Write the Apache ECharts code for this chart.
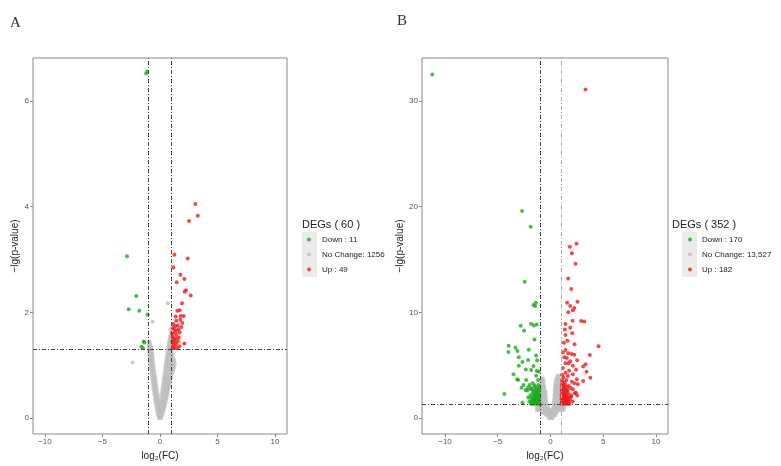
<!DOCTYPE html>
<html><head><meta charset="utf-8">
<script src="https://cdn.jsdelivr.net/npm/echarts@6/dist/echarts.min.js"></script>
<style>html,body{margin:0;padding:0;background:#fff}#c{width:781px;height:466px}</style>
</head><body><div id="c"></div>
<script>
// ---------- Panel A data ----------
const xTicks = [-10, -5, 0, 5, 10];
const yTicksA = [0, 2, 4, 6];
const yTicksB = [0, 10, 20, 30];
const legendTitleA = 'DEGs ( 60 )';
const legendTitleB = 'DEGs ( 352 )';
const namesA = ['Down : 11', 'No Change: 1256', 'Up : 49'];
const namesB = ['Down : 170', 'No Change: 13,527', 'Up : 182'];

const downA = [[-1.2,6.52],[-1.12,6.56],[-2.87,3.06],[-2.06,2.31],[-2.72,2.06],[-1.80,2.03],[-1.07,1.96],
  [-1.42,1.45],[-1.36,1.43],[-1.62,1.35],[-1.48,1.32]];
const upA = [[3.07,4.05],[3.28,3.83],[2.52,3.73],[1.25,3.09],[2.41,3.02],[1.16,2.85],[1.77,2.71],[2.12,2.63],
  [1.45,2.57],[2.26,2.42],[2.14,2.39],[2.67,2.32],[1.91,2.17],[1.71,2.04],[1.51,2.03],[1.36,1.92],[2.06,1.93],
  [1.77,1.86],[1.16,1.78],[1.54,1.75],[1.86,1.72],[1.22,1.68],[1.45,1.65],[1.28,1.62],[1.71,1.62],[1.10,1.54],
  [1.45,1.50],[1.22,1.47],[1.57,1.45],[2.12,1.41],[1.16,1.39],[1.39,1.39],[1.68,1.36],[1.28,1.33],[1.51,1.32],
  [1.10,1.32],[1.13,1.34],[1.33,1.43],[1.08,1.45],[1.65,1.52],[1.18,1.51],[1.42,1.57],[1.06,1.60],[1.62,1.68],
  [1.33,1.74],[1.14,1.71],[1.94,1.80],[1.80,1.93],[1.42,1.84]];
// grey rows: [y, [x...]]
const greyRowsA = [
  [0.00,[-0.08,0.0,0.1]],
  [0.05,[-0.16,-0.05,0.06,0.18]],
  [0.10,[-0.22,-0.1,0.02,0.14,0.27]],
  [0.15,[-0.26,-0.14,-0.02,0.1,0.22,0.33]],
  [0.20,[-0.3,-0.18,-0.06,0.06,0.18,0.3,0.38]],
  [0.25,[-0.34,-0.22,-0.1,0.02,0.14,0.27,0.4,0.44]],
  [0.30,[-0.38,-0.26,-0.14,0.0,0.14,0.28,0.4,0.48]],
  [0.35,[-0.42,-0.3,-0.16,0.08,0.22,0.36,0.48,0.54]],
  [0.40,[-0.45,-0.32,-0.18,0.14,0.27,0.4,0.52,0.58]],
  [0.45,[-0.49,-0.36,-0.2,0.16,0.3,0.44,0.56,0.64]],
  [0.50,[-0.52,-0.4,-0.26,0.2,0.34,0.48,0.6,0.68]],
  [0.55,[-0.55,-0.42,-0.28,0.22,0.36,0.5,0.64,0.73]],
  [0.60,[-0.58,-0.46,-0.32,0.26,0.4,0.54,0.68,0.78]],
  [0.65,[-0.62,-0.5,-0.36,0.28,0.42,0.56,0.7,0.83]],
  [0.70,[-0.65,-0.52,-0.38,0.32,0.46,0.6,0.74,0.88]],
  [0.75,[-0.68,-0.55,-0.4,0.34,0.48,0.62,0.78,0.94]],
  [0.80,[-0.71,-0.58,-0.44,0.38,0.52,0.66,0.82,1.0]],
  [0.85,[-0.74,-0.62,-0.48,0.4,0.55,0.7,0.86,1.06]],
  [0.90,[-0.76,-0.64,-0.5,0.44,0.58,0.74,0.9,1.05,1.15]],
  [0.95,[-0.8,-0.67,-0.54,0.46,0.6,0.76,0.92,1.08,1.22]],
  [1.00,[-0.82,-0.7,-0.56,0.5,0.64,0.8,0.96,1.12,1.28]],
  [1.05,[-0.85,-0.72,-0.6,0.52,0.66,0.82,0.98,1.14,1.25]],
  [1.10,[-0.87,-0.75,-0.62,0.56,0.7,0.86,0.98,1.1,1.22]],
  [1.15,[-0.89,-0.77,-0.64,0.58,0.72,0.88,0.99,1.12]],
  [1.20,[-0.91,-0.8,-0.66,0.62,0.76,0.9,0.99,1.08]],
  [1.25,[-0.93,-0.82,-0.7,0.64,0.78,0.92,0.99]],
  [1.30,[-0.95,-0.84,-0.72,0.68,0.82,0.94]],
  [1.35,[-0.96,-0.86,-0.74,0.72,0.85,0.96]],
  [1.40,[-0.97,-0.88,0.76,0.88,0.97]],
  [1.45,[-0.98,-0.9,0.8,0.92,0.98]],
  [1.50,[0.84,0.95]],
  [1.55,[0.88,0.97]],
  [1.62,[0.93]]
];
const greyExtraA = [[-0.64,1.82],[0.67,2.17],[-2.38,1.05],[0.9,1.68]];

// ---------- Panel B data ----------
const downB = [[-11.2,32.5],[-2.69,19.6],[-1.87,18.1],[-2.44,12.9],[-1.39,10.9],[-1.61,10.7],[-1.46,10.6],
  [-2.82,8.73],[-2.5,8.26],[-1.84,8.92],[-1.58,8.75],[-1.30,8.84],[-1.52,7.44],[-3.96,6.84],[-3.99,6.24],
  [-3.32,6.65],[-3.13,6.34],[-2.06,6.46],[-3.0,5.75],[-1.36,5.91],[-2.12,5.5],[-2.66,5.31],[-1.27,5.47],
  [-3.0,4.95],[-2.34,4.6],[-1.84,4.54],[-1.61,4.91],[-1.30,4.44],[-3.51,4.13],[-3.16,3.66],[-3.07,3.6],
  [-2.31,3.6],[-1.36,4.0],[-1.11,4.4],[-4.37,2.27],[-2.66,1.45],[-2.75,2.87],[-2.56,3.12],[-2.37,2.64],
  [-2.15,2.87],[-1.99,3.12],[-1.84,2.71],[-1.68,3.28],[-1.52,2.9],[-1.42,2.49],[-1.17,3.6]];
const downRowsB = [
  [1.35,[-1.05,-1.2,-1.35,-1.5,-1.65,-1.85]],
  [1.55,[-1.08,-1.22,-1.38,-1.55,-1.72,-2.0]],
  [1.75,[-1.05,-1.18,-1.32,-1.48,-1.62,-1.8]],
  [1.95,[-1.1,-1.25,-1.4,-1.58,-1.75,-2.1]],
  [2.15,[-1.05,-1.2,-1.35,-1.52,-1.9]],
  [2.35,[-1.1,-1.28,-1.45,-1.68]],
  [2.60,[-1.06,-1.22,-1.4,-1.62,-2.2]],
  [2.85,[-1.1,-1.3,-1.85]],
  [3.10,[-1.15,-1.5]]
];
const upB = [[3.32,31.1],[2.47,16.5],[1.84,16.2],[2.03,15.6],[2.37,14.6],[1.68,13.2],[1.96,12.2],[2.56,11.0],
  [1.58,10.9],[1.87,10.6],[2.25,10.4],[2.12,10.2],[1.68,10.0],[2.91,9.17],[3.2,9.14],[2.09,9.2],[1.42,8.9],
  [1.36,8.38],[1.87,8.55],[2.06,8.01],[1.42,7.86],[1.27,7.12],[1.61,7.31],[2.28,6.97],[4.56,6.78],[1.42,6.43],
  [1.17,6.21],[1.68,6.12],[1.99,6.05],[2.25,5.99],[3.73,5.96],[1.3,5.75],[1.55,5.69],[2.53,5.47],[1.87,5.37],
  [1.42,5.18],[1.71,5.18],[3.32,5.09],[2.12,4.94],[3.1,4.87],[1.17,4.73],[2.43,4.57],[1.77,4.47],[3.42,4.38],
  [1.42,4.28],[2.12,4.13],[1.65,3.97],[3.77,3.82],[2.5,3.66],[3.1,3.51],[2.03,3.44],[2.28,3.28],[2.59,3.19],
  [1.74,3.03],[1.23,2.87],[2.12,2.71],[1.49,2.55],[2.41,2.39],[2.53,2.14],[1.96,2.01]];
const upRowsB = [
  [1.35,[1.05,1.2,1.35,1.5,1.65,1.8]],
  [1.55,[1.08,1.22,1.38,1.55,1.72,2.1]],
  [1.75,[1.05,1.18,1.32,1.48,1.62,1.85]],
  [1.95,[1.1,1.25,1.4,1.58,1.75]],
  [2.15,[1.05,1.2,1.35,1.52,1.95]],
  [2.35,[1.1,1.28,1.45,1.68,2.3]],
  [2.60,[1.06,1.22,1.4,1.62]],
  [2.85,[1.1,1.3,1.55,1.9]],
  [3.10,[1.08,1.25,1.45]],
  [3.35,[1.12,1.35]],
  [3.60,[1.1,1.5]],
  [3.85,[1.2]],
  [4.10,[1.1]]
];
const greyRowsB = [
  [0.00,[-0.2,-0.05,0.1,0.22]],
  [0.25,[-0.4,-0.25,-0.1,0.05,0.2,0.35,0.45]],
  [0.50,[-0.75,-0.6,-0.45,-0.3,-0.15,0.0,0.15,0.3,0.45,0.6]],
  [0.75,[-1.3,-1.15,-1.0,-0.85,-0.7,-0.55,-0.4,-0.25,-0.1,0.05,0.2,0.35,0.5,0.65,0.8,0.95,1.1,1.25]],
  [1.00,[-1.3,-1.1,-0.95,-0.8,-0.65,-0.5,-0.35,-0.2,0.25,0.4,0.55,0.7,0.85,1.0,1.15,1.3]],
  [1.25,[-1.2,-1.05,-0.9,-0.75,-0.6,-0.45,-0.3,0.3,0.45,0.6,0.75,0.9,1.05,1.2]],
  [1.50,[-1.0,-0.85,-0.7,-0.55,-0.4,0.32,0.47,0.62,0.77,0.92,1.02]],
  [1.75,[-1.0,-0.85,-0.7,-0.55,-0.42,0.34,0.5,0.65,0.8,0.95]],
  [2.00,[-0.98,-0.84,-0.7,-0.56,-0.44,0.36,0.5,0.65,0.8,0.95]],
  [2.25,[-0.98,-0.84,-0.7,-0.56,-0.46,0.38,0.52,0.66,0.8,0.95]],
  [2.50,[-0.97,-0.83,-0.7,-0.58,-0.48,0.4,0.54,0.68,0.82,0.96]],
  [2.75,[-0.96,-0.82,-0.7,-0.58,0.42,0.56,0.7,0.84,0.97]],
  [3.00,[-0.95,-0.82,-0.68,-0.6,0.44,0.58,0.72,0.86,0.98]],
  [3.25,[-0.92,-0.8,-0.66,0.46,0.6,0.74,0.88,0.98]],
  [3.50,[-0.9,-0.76,-0.64,0.5,0.64,0.78,0.92]],
  [3.75,[-0.82,-0.7,0.56,0.7,0.86]],
  [4.00,[0.66,0.82]]
];

const fromRows = rows => rows.flatMap(([y, xs]) => xs.map(x => [x, y]));

const GREEN = '#1aab1a', RED = '#f51a1a', GREY = '#bebebe';
const AX = '#8a8a8a', LBL = '#555';
const FONT = 'Liberation Sans, Arial, sans-serif';
const dash = [4, 2, 1, 2];

function xAxisCfg(idx, min, max) {
  return {
    type: 'value', gridIndex: idx, min, max, position: 'bottom',
    name: 'log\u2082(FC)', nameLocation: 'middle', nameGap: 10,
    nameTextStyle: { fontFamily: FONT, fontSize: 10, color: '#222' },
    splitLine: { show: false }, axisLine: { show: false, onZero: false },
    axisTick: { show: true, inside: false, length: 3, lineStyle: { color: AX }, customValues: xTicks },
    axisLabel: { fontFamily: FONT, fontSize: 8, color: LBL, margin: 4, customValues: xTicks,
      formatter: v => (v < 0 ? '\u2212' + Math.abs(v) : String(v)) }
  };
}
function yAxisCfg(idx, min, max, ticks) {
  return {
    type: 'value', gridIndex: idx, min, max, position: 'left',
    name: '\u2212lg(p-value)', nameLocation: 'middle', nameGap: 11,
    nameTextStyle: { fontFamily: FONT, fontSize: 10, color: '#222' },
    splitLine: { show: false }, axisLine: { show: false, onZero: false },
    axisTick: { show: true, inside: false, length: 3, lineStyle: { color: AX }, customValues: ticks },
    axisLabel: { fontFamily: FONT, fontSize: 8, color: LBL, margin: 4, customValues: ticks }
  };
}
function scat(name, data, color, idx, z) {
  return { type: 'scatter', name, data, xAxisIndex: idx, yAxisIndex: idx, symbolSize: 4,
    itemStyle: { color }, z, silent: true, animation: false };
}
function lines(idx, rightColor) {
  return { type: 'scatter', data: [], xAxisIndex: idx, yAxisIndex: idx, z: 10, silent: true,
    markLine: { silent: true, symbol: 'none', animation: false, label: { show: false },
      lineStyle: { color: '#444', width: 1, type: dash },
      data: [ { xAxis: -1 }, { xAxis: 1, lineStyle: { color: rightColor, type: dash } }, { yAxis: 1.301 } ] } };
}

const chart = echarts.init(document.getElementById('c'), null, { renderer: 'canvas' });
const legendCommon = { orient: 'vertical', itemWidth: 4, itemHeight: 4, itemGap: 0, icon: 'circle', padding: 0,
  selectedMode: false, textStyle: { fontFamily: FONT, fontSize: 8, color: '#222', lineHeight: 15 } };
chart.setOption({
  animation: false,
  backgroundColor: '#fff',
  title: [
    { text: 'A', left: 10, top: 16, padding: 0, textStyle: { fontFamily: 'Liberation Serif, serif', fontSize: 15, fontWeight: 'normal', color: '#333' } },
    { text: 'B', left: 397, top: 14, padding: 0, textStyle: { fontFamily: 'Liberation Serif, serif', fontSize: 15, fontWeight: 'normal', color: '#333' } },
    { text: legendTitleA, left: 302, top: 219, padding: 0, textStyle: { fontFamily: FONT, fontSize: 11, fontWeight: 'normal', color: '#222' } },
    { text: legendTitleB, left: 672, top: 219, padding: 0, textStyle: { fontFamily: FONT, fontSize: 11, fontWeight: 'normal', color: '#222' } }
  ],
  graphic: [
    { type: 'rect', shape: { x: 302, y: 232, width: 15, height: 45 }, style: { fill: '#ebebeb' }, z: -1 },
    { type: 'rect', shape: { x: 682, y: 232, width: 15, height: 45 }, style: { fill: '#ebebeb' }, z: -1 }
  ],
  legend: [
    Object.assign({}, legendCommon, { data: namesA, left: 307, top: 232, textStyle: Object.assign({}, legendCommon.textStyle, { padding: [0, 0, 0, 6] }) }),
    Object.assign({}, legendCommon, { data: namesB, left: 688, top: 232, textStyle: Object.assign({}, legendCommon.textStyle, { padding: [0, 0, 0, 5] }) })
  ],
  grid: [
    { left: 33, top: 58, width: 254, height: 376, show: true, borderColor: AX, borderWidth: 1, backgroundColor: 'transparent' },
    { left: 422, top: 58, width: 246, height: 376, show: true, borderColor: AX, borderWidth: 1, backgroundColor: 'transparent' }
  ],
  xAxis: [ xAxisCfg(0, -11.04, 11.04), xAxisCfg(1, -12.18, 11.14) ],
  yAxis: [ yAxisCfg(0, -0.303, 6.814, yTicksA), yAxisCfg(1, -1.514, 34.07, yTicksB) ],
  series: [
    scat(namesA[1], fromRows(greyRowsA).concat(greyExtraA), GREY, 0, 2),
    scat(namesA[0], downA, GREEN, 0, 3),
    scat(namesA[2], upA, RED, 0, 3),
    lines(0, '#444'),
    scat(namesB[1], fromRows(greyRowsB), GREY, 1, 2),
    scat(namesB[0], downB.concat(fromRows(downRowsB)), GREEN, 1, 3),
    scat(namesB[2], upB.concat(fromRows(upRowsB)), RED, 1, 3),
    lines(1, '#aaa')
  ]
});
</script>
</body></html>
